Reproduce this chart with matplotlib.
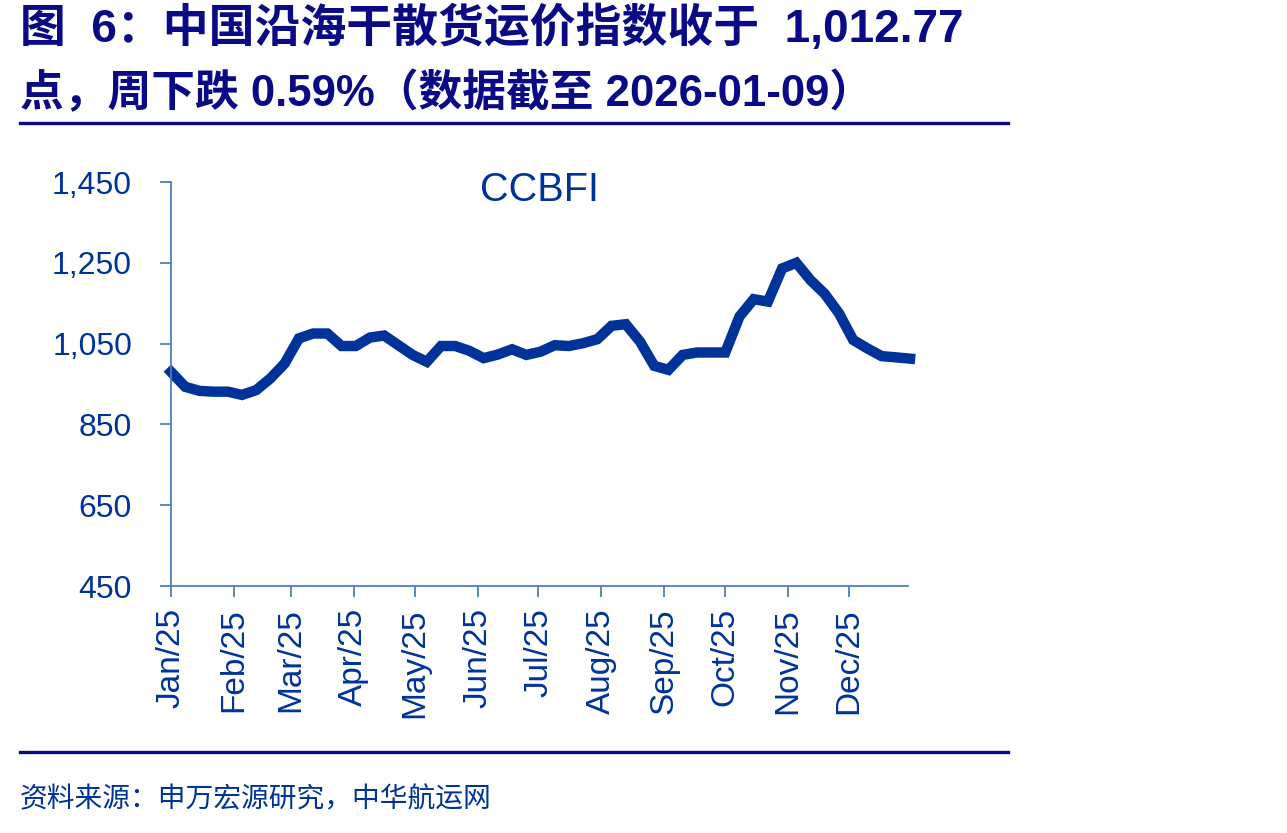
import numpy as np
import pandas as pd
import matplotlib
matplotlib.use("Agg")
import matplotlib.pyplot as plt
import matplotlib.dates as mdates
from matplotlib.lines import Line2D
from matplotlib.ticker import FuncFormatter

plt.rcParams['font.family'] = ['Liberation Sans', 'Noto Sans CJK SC', 'DejaVu Sans']

# weekly CCBFI readings, 2025
dates = pd.date_range("2025-01-01", periods=53, freq="7D")
ccbfi = [980, 943, 933, 931, 931, 923, 935, 964, 1001, 1063,
         1075, 1075, 1044, 1044, 1065, 1070, 1046, 1022, 1005, 1044,
         1044, 1032, 1014, 1023, 1036, 1022, 1030, 1046, 1044, 1051,
         1061, 1094, 1098, 1055, 995, 985, 1022, 1028, 1028, 1028,
         1117, 1160, 1154, 1236, 1250, 1207, 1173, 1125, 1059, 1038,
         1019, 1016, 1012.77]
yticks = [450, 650, 850, 1050, 1250, 1450]

title1 = "图  6：中国沿海干散货运价指数收于  1,012.77"
title2 = "点，周下跌 0.59%（数据截至 2026-01-09）"
source = "资料来源：申万宏源研究，中华航运网"
series_name = "CCBFI"

blue = "#003399"
navy = "#0A0A86"
spine = "#4F7DC0"

W, H = 1287, 833
fig = plt.figure(figsize=(W / 100, H / 100), dpi=100)
ax = fig.add_axes([171 / W, 1 - 586 / H, (908 - 171) / W, (586 - 182) / H])

ax.plot(dates, ccbfi, color=blue, lw=7.5, solid_joinstyle="miter", clip_on=False)

ax.set_ylim(450, 1450)
ax.set_yticks(yticks)
ax.yaxis.set_major_formatter(FuncFormatter(lambda v, p: f"{int(v):,}"))
ax.set_xlim(pd.Timestamp("2025-01-01"), dates[-1] - pd.Timedelta(days=1))
ax.xaxis.set_major_locator(mdates.MonthLocator())
ax.xaxis.set_major_formatter(mdates.DateFormatter("%b/%y"))

for s in ["top", "right"]:
    ax.spines[s].set_visible(False)
for s in ["left", "bottom"]:
    ax.spines[s].set_color(spine)
    ax.spines[s].set_linewidth(1.3)

ax.tick_params(axis="y", colors=spine, labelcolor=blue, labelsize=23,
               length=8, width=1.3, pad=20)
ax.tick_params(axis="x", colors=spine, labelcolor=blue, labelsize=24,
               length=8, width=1.3, pad=8, labelrotation=90)

ax.text(0.5, 0.98, series_name, transform=ax.transAxes, ha="center", va="center",
        fontsize=28.5, color=blue)

fig.text(20 / W, 1 - 29 / H, title1, fontsize=33, fontweight="bold", color=navy,
         ha="left", va="center")
fig.text(20 / W, 1 - 94 / H, title2, fontsize=31.5, fontweight="bold", color=navy,
         ha="left", va="center")
fig.add_artist(Line2D([20 / W, 1008 / W], [1 - 123 / H, 1 - 123 / H], color=navy, lw=2.4))
fig.add_artist(Line2D([20 / W, 1008 / W], [1 - 752 / H, 1 - 752 / H], color=navy, lw=2.4))
fig.text(20 / W, 1 - 800 / H, source, fontsize=20, color=blue, ha="left", va="center")

fig.savefig("out.png", dpi=100)
